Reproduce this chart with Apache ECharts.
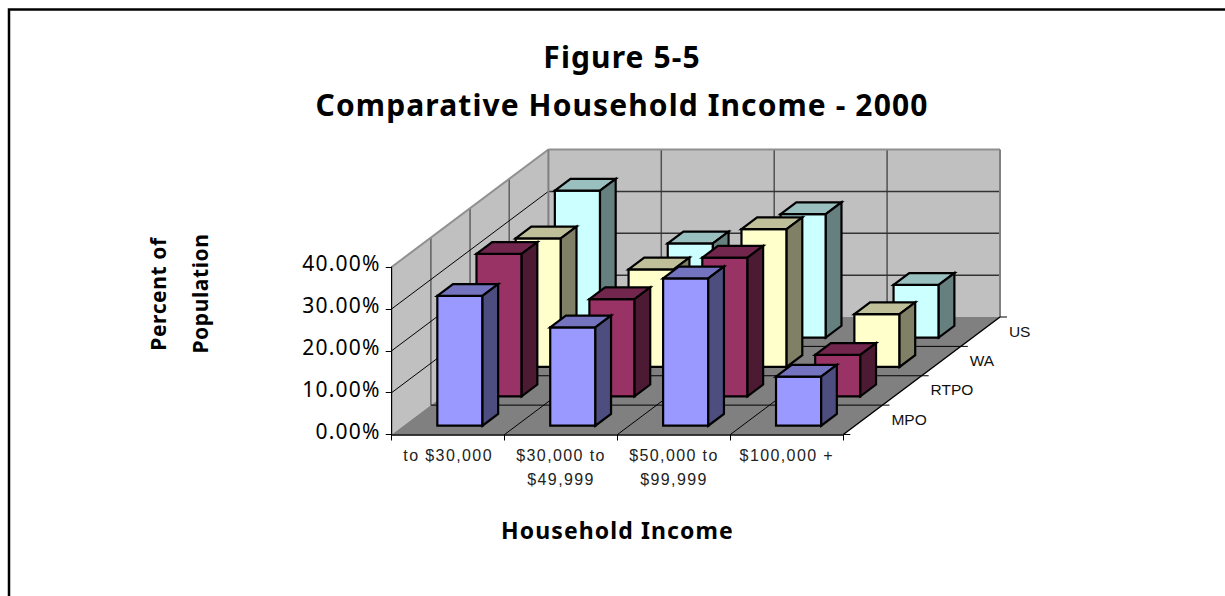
<!DOCTYPE html>
<html>
<head>
<meta charset="utf-8">
<style>
html,body{margin:0;padding:0;background:#fff;}
#chart{width:1225px;height:596px;}
#chart text[style*="Arial"]{letter-spacing:1.4px;}
#chart text[style*="TitleFace"]{letter-spacing:1.1px;}
#chart text[style*="NameFace"]{letter-spacing:1.1px;}
#chart text[style*="TickFace"]{letter-spacing:1.2px;}
#chart text[style*="RotFace"]{letter-spacing:0.6px;}
</style>
<script src="https://cdn.jsdelivr.net/npm/echarts@6/dist/echarts.min.js"></script>
</head>
<body>
<div id="chart"></div>
<script>
var categories = ['to $30,000', '$30,000 to\n$49,999', '$50,000 to\n$99,999', '$100,000 +'];
var seriesNames = ['MPO', 'RTPO', 'WA', 'US'];
var mpo  = [31.0, 23.5, 35.2, 11.7];
var rtpo = [34.0, 23.2, 33.1, 9.9];
var wa   = [30.7, 23.3, 32.9, 12.6];
var us   = [35.1, 22.5, 29.5, 12.6];
var valueTicks = [0, 10, 20, 30, 40];

var DEPTH_DX = 156.7, DEPTH_DY = -117.5;
var BAR_GAP_X = 0.30, BAR_GAP_D = 0.30;
var faces = {
  MPO:  {front:'#9999ff', top:'#7373bf', side:'#4d4d80'},
  RTPO: {front:'#993366', top:'#73264d', side:'#4d1a33'},
  WA:   {front:'#ffffcc', top:'#bfbf99', side:'#808066'},
  US:   {front:'#ccffff', top:'#99bfbf', side:'#668080'}
};
function shift(p, d){ return [p[0] + d*DEPTH_DX, p[1] + d*DEPTH_DY]; }
function line(a, b, color, w){
  return {type:'line', shape:{x1:a[0], y1:a[1], x2:b[0], y2:b[1]}, style:{stroke:color, lineWidth:w}, silent:true};
}
function poly(points, fill, stroke, w){
  return {type:'polygon', shape:{points:points}, style:{fill:fill, stroke:stroke||'none', lineWidth:w||0, lineJoin:'miter'}, silent:true};
}

function renderWalls(params, api){
  var n = categories.length, rows = seriesNames.length;
  var band = api.size([1,0])[0];
  var c0 = api.coord([0,0]);
  var left = c0[0]-band/2, right = left+band*n, base = c0[1];
  var topV = valueTicks[valueTicks.length-1];
  var top = api.coord([0,topV])[1];
  var A=[left,base], B=[right,base], C=[left,top];
  var kids = [];
  kids.push(poly([A, C, shift(C,1), shift(A,1)], '#c0c0c0'));
  kids.push(poly([shift(A,1), shift(C,1), shift([right,top],1), shift(B,1)], '#c0c0c0'));
  kids.push(poly([A, B, shift(B,1), shift(A,1)], '#808080'));
  var i, v, y;
  for(i=1;i<rows;i++){
    var d=i/rows;
    kids.push(line(shift(A,d), shift([left,top],d), '#606060', 1.5));
    kids.push(line(shift(A,d), shift(B,d), '#000', 1));
  }
  for(i=1;i<n;i++){
    var x=left+band*i;
    kids.push(line(shift([x,base],1), shift([x,top],1), '#505050', 1.5));
    kids.push(line([x,base], shift([x,base],1), '#000', 1));
  }
  for(v=1;v<valueTicks.length-1;v++){
    y=api.coord([0,valueTicks[v]])[1];
    kids.push(line([left,y], shift([left,y],1), '#000', 1));
    kids.push(line(shift([left,y],1), shift([right,y],1), '#333', 1.5));
  }
  kids.push(line(A, C, '#000', 1));
  kids.push(line(C, shift(C,1), '#909090', 2));
  kids.push(line(shift(C,1), shift([right,top],1), '#909090', 2));
  kids.push(line(shift([right,top],1), shift(B,1), '#808080', 2));
  kids.push(line(shift(C,1), shift(A,1), '#808080', 2));
  // depth axis
  kids.push(line(B, shift(B,1), '#000', 1.5));
  for(i=0;i<=rows;i++){
    var t=shift(B,i/rows);
    kids.push(line(t,[t[0]+7,t[1]],'#000',1));
  }
  seriesNames.forEach(function(name,r){
    var m=shift(B,(r+0.5)/rows);
    kids.push({type:'text', silent:true, style:{text:name, x:m[0]+28.5, y:m[1]-0.5, fill:'#111',
      font:"15.5px 'Liberation Sans'", align:'left', verticalAlign:'middle'}});
  });
  return {type:'group', children:kids};
}

function barRenderer(row){
  var name = seriesNames[row], col = faces[name], rows = seriesNames.length;
  return function(params, api){
    var cat = api.value(0), val = api.value(1);
    var band = api.size([1,0])[0];
    var base = api.coord([cat,0]), top = api.coord([cat,val]);
    var x0 = base[0]-band/2+band*BAR_GAP_X, x1 = base[0]+band/2-band*BAR_GAP_X;
    var d0 = (row+BAR_GAP_D)/rows, d1 = (row+1-BAR_GAP_D)/rows;
    var fl=shift([x0,top[1]],d0), fr=shift([x1,top[1]],d0), bl=shift([x0,base[1]],d0), br=shift([x1,base[1]],d0);
    var tl=shift([x0,top[1]],d1), tr=shift([x1,top[1]],d1), rb=shift([x1,base[1]],d1);
    return {type:'group', children:[
      poly([fl,fr,br,bl], col.front, '#000', 2.2),
      poly([fl,tl,tr,fr], col.top, '#000', 2.2),
      poly([fr,tr,rb,br], col.side, '#000', 2.2)
    ]};
  };
}
function rowData(values){ return values.map(function(v,i){ return [i,v]; }); }

var rowValues = [mpo, rtpo, wa, us];
var series = [{type:'custom', name:'walls', renderItem:renderWalls, data:[[0,0]], silent:true, clip:false, encode:{x:0,y:1}}];
for(var r=seriesNames.length-1;r>=0;r--){
  series.push({type:'custom', name:seriesNames[r], renderItem:barRenderer(r), data:rowData(rowValues[r]), silent:true, clip:false, encode:{x:0,y:1}});
}

var chart = echarts.init(document.getElementById('chart'), null, {renderer:'svg', width:1225, height:596});
chart.setOption({
  animation:false,
  backgroundColor:'#fff',
  title:[
    {text:'Figure 5-5', left:617, top:51, textAlign:'center', textVerticalAlign:'middle',
     textStyle:{fontFamily:'Noto Sans, TitleFace', fontWeight:'bold', fontSize:30, color:'#000'}},
    {text:'Comparative Household Income - 2000', left:617, top:99, textAlign:'center', textVerticalAlign:'middle',
     textStyle:{fontFamily:'Noto Sans, TitleFace', fontWeight:'bold', fontSize:30, color:'#000'}}
  ],
  grid:{left:391.7, top:267, width:451.6, height:167.5},
  xAxis:{type:'category', data:categories, z:10, name:'Household Income', nameLocation:'middle', nameGap:84,
    nameTextStyle:{fontFamily:'Noto Sans, NameFace', fontWeight:'bold', fontSize:23, color:'#000'},
    axisLine:{lineStyle:{color:'#000', width:1.5}}, axisTick:{show:true, length:6, alignWithLabel:false, lineStyle:{color:'#000'}},
    axisLabel:{margin:9, interval:0, fontFamily:'Arial, Liberation Sans', fontSize:16, lineHeight:24, color:'#222'},
    splitLine:{show:false}},
  yAxis:{type:'value', min:0, max:40, interval:10, z:10,
    axisLine:{show:true, lineStyle:{color:'#000', width:1}}, axisTick:{show:true, length:6, lineStyle:{color:'#000'}},
    axisLabel:{margin:11, verticalAlign:'bottom', lineHeight:8, fontFamily:'Noto Sans, TickFace', fontSize:21, color:'#000', formatter:function(v){return v.toFixed(2)+'%';}},
    splitLine:{show:false}},
  graphic:[
    {type:'polyline', silent:true, shape:{points:[[9,596],[9,9.5],[1225,9.5]]}, style:{fill:'none', stroke:'#000', lineWidth:2.5}},
    {type:'text', silent:true, x:158, y:294, rotation:Math.PI/2, style:{text:'Percent of', fill:'#000', align:'center', verticalAlign:'middle', font:"bold 21px 'Noto Sans', RotFace"}},
    {type:'text', silent:true, x:200, y:293.5, rotation:Math.PI/2, style:{text:'Population', fill:'#000', align:'center', verticalAlign:'middle', font:"bold 21px 'Noto Sans', RotFace"}}
  ],
  series:series
});
</script>
</body>
</html>
